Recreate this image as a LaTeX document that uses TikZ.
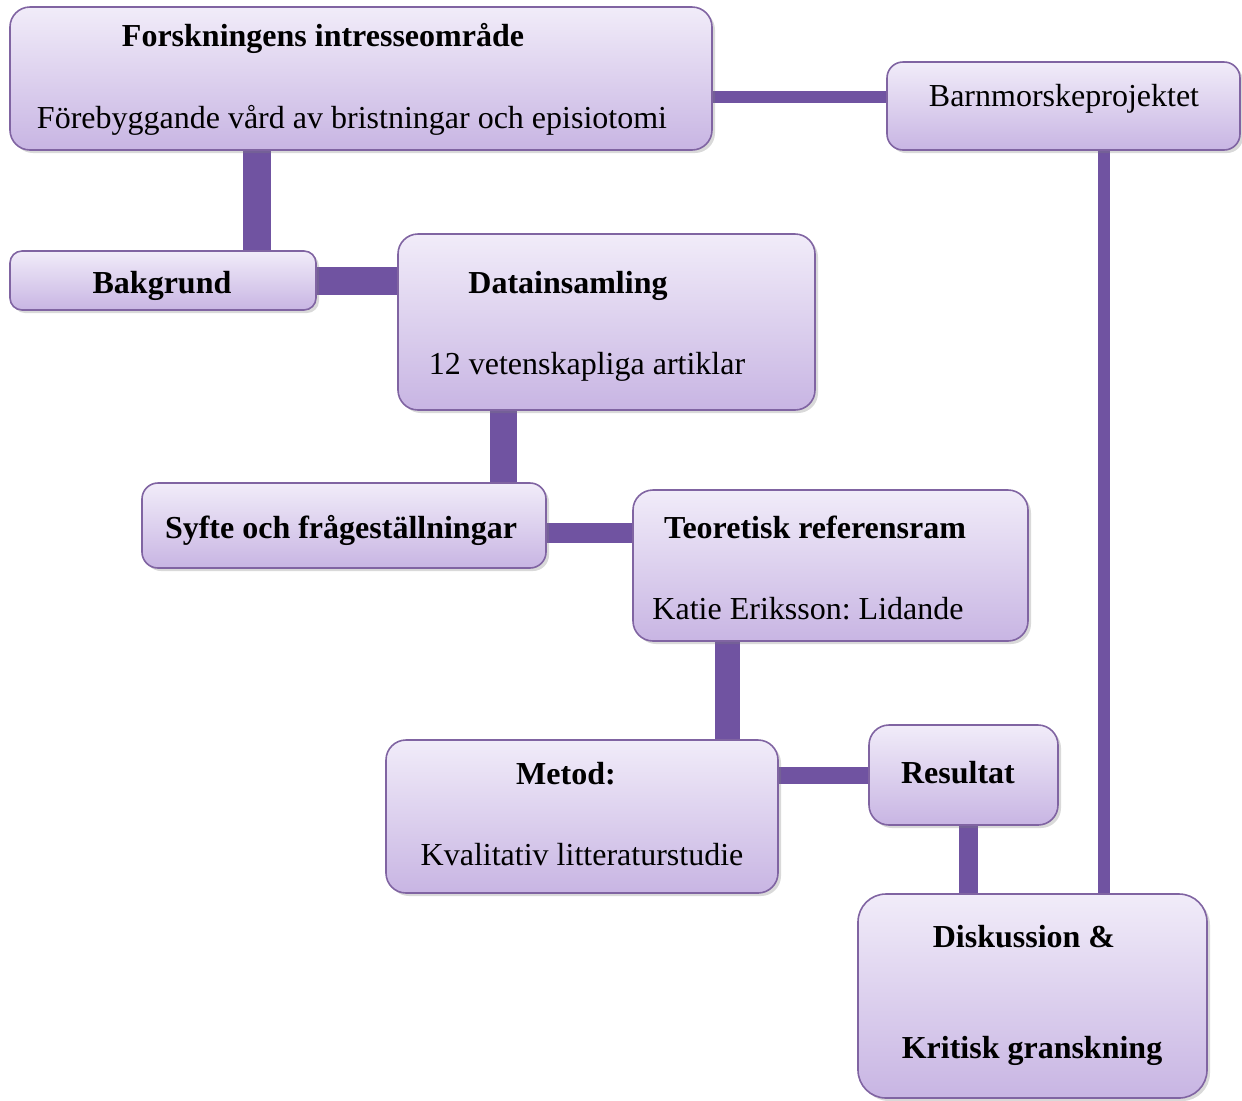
\documentclass[tikz,border=0pt]{standalone}
\usepackage{fontspec}
\setmainfont{Liberation Serif}
\usepackage{tikz}
\usetikzlibrary{shadows,backgrounds}
\frenchspacing
\definecolor{boxtop}{HTML}{F1ECF9}
\definecolor{boxbottom}{HTML}{C8B5E3}
\definecolor{boxline}{HTML}{8064A2}
\definecolor{barcolor}{HTML}{7053A1}
\tikzset{box/.style = {rectangle, rounded corners=10pt, draw=boxline, line width=0.8pt, top color=boxtop, bottom color=boxbottom, inner sep=0pt, outer sep=0pt, drop shadow={opacity=0.3, shadow xshift=1.5pt, shadow yshift=-1.5pt}}}
\tikzset{boxtitle/.style = {anchor=base, inner sep=0pt, font=\fontsize{16}{19}\selectfont\bfseries}}
\tikzset{boxtext/.style = {anchor=base, inner sep=0pt, font=\fontsize{16}{19}\selectfont}}
\tikzset{bar/.style = {draw=barcolor, line cap=butt}}

\begin{document}
\begin{tikzpicture}[x=0.5pt, y=-0.5pt]
\useasboundingbox (0,0) rectangle (1242,1100);

\node [box, minimum width=351pt, minimum height=71.5pt] (forsk) at (361,78.5) {};
\node [box, rounded corners=8pt, minimum width=176.5pt, minimum height=44pt] (barn) at (1063.5,106) {};
\node [box, rounded corners=6pt, minimum width=153pt, minimum height=29.5pt] (bakgrund) at (163,280.5) {};
\node [box, minimum width=208.5pt, minimum height=88pt] (datains) at (606.5,322) {};
\node [box, rounded corners=8pt, minimum width=202pt, minimum height=42.5pt] (syfte) at (344,525.5) {};
\node [box, minimum width=197.5pt, minimum height=75.5pt] (teori) at (830.5,565.5) {};
\node [box, minimum width=196pt, minimum height=76.5pt] (metod) at (582,816.5) {};
\node [box, minimum width=94.5pt, minimum height=50pt] (resultat) at (963.5,775) {};
\node [box, rounded corners=14pt, minimum width=174.5pt, minimum height=102pt] (disk) at (1032.5,996) {};

\node [boxtitle] (forsktitle) at (323,46) {Forskningens intresseområde};
\node [boxtext] (forsktext) at (352,128) {Förebyggande vård av bristningar och episiotomi};
\node [boxtext] (barntext) at (1064,106) {Barnmorskeprojektet};
\node [boxtitle] (bakgrundtitle) at (162,293) {Bakgrund};
\node [boxtitle] (datainstitle) at (568,293) {Datainsamling};
\node [boxtext] (datainstext) at (587,374) {12 vetenskapliga artiklar};
\node [boxtitle] (syftetitle) at (341,538) {Syfte och frågeställningar};
\node [boxtitle] (teorititle) at (815,538) {Teoretisk referensram};
\node [boxtext] (teoritext) at (808,619) {Katie Eriksson: Lidande};
\node [boxtitle] (metodtitle) at (566,784) {Metod:};
\node [boxtext] (metodtext) at (582,865) {Kvalitativ litteraturstudie};
\node [boxtitle] (resultattitle) at (958,783) {Resultat};
\node [boxtitle] (disktitle) at (1024,947) {Diskussion \&};
\node [boxtitle] (disktext) at (1032,1058) {Kritisk granskning};

\coordinate (fb) at ([yshift=4.5pt]barn.west);
\coordinate (bk) at ([xshift=47pt]bakgrund.north);
\coordinate (sd) at ([xshift=79.75pt]syfte.north);
\coordinate (st) at ([yshift=-3.75pt]syfte.east);
\coordinate (mt) at ([xshift=72.75pt]metod.north);
\coordinate (rd) at ([xshift=2.5pt]resultat.south);
\coordinate (bd) at ([xshift=20.25pt]barn.south);

\begin{scope}[on background layer]
\draw [bar, line width=6pt] (fb) -- (fb -| forsk.east);
\draw [bar, line width=14pt] (bk) -- (bk |- forsk.south);
\draw [bar, line width=14pt] (bakgrund.east) -- (bakgrund.east -| datains.west);
\draw [bar, line width=13.5pt] (sd) -- (sd |- datains.south);
\draw [bar, line width=10pt] (st) -- (st -| teori.west);
\draw [bar, line width=12.5pt] (mt) -- (mt |- teori.south);
\draw [bar, line width=8.5pt] (resultat.west) -- (resultat.west -| metod.east);
\draw [bar, line width=9.5pt] (rd) -- (rd |- disk.north);
\draw [bar, line width=6pt] (bd) -- (bd |- disk.north);
\end{scope}
\end{tikzpicture}
\end{document}
